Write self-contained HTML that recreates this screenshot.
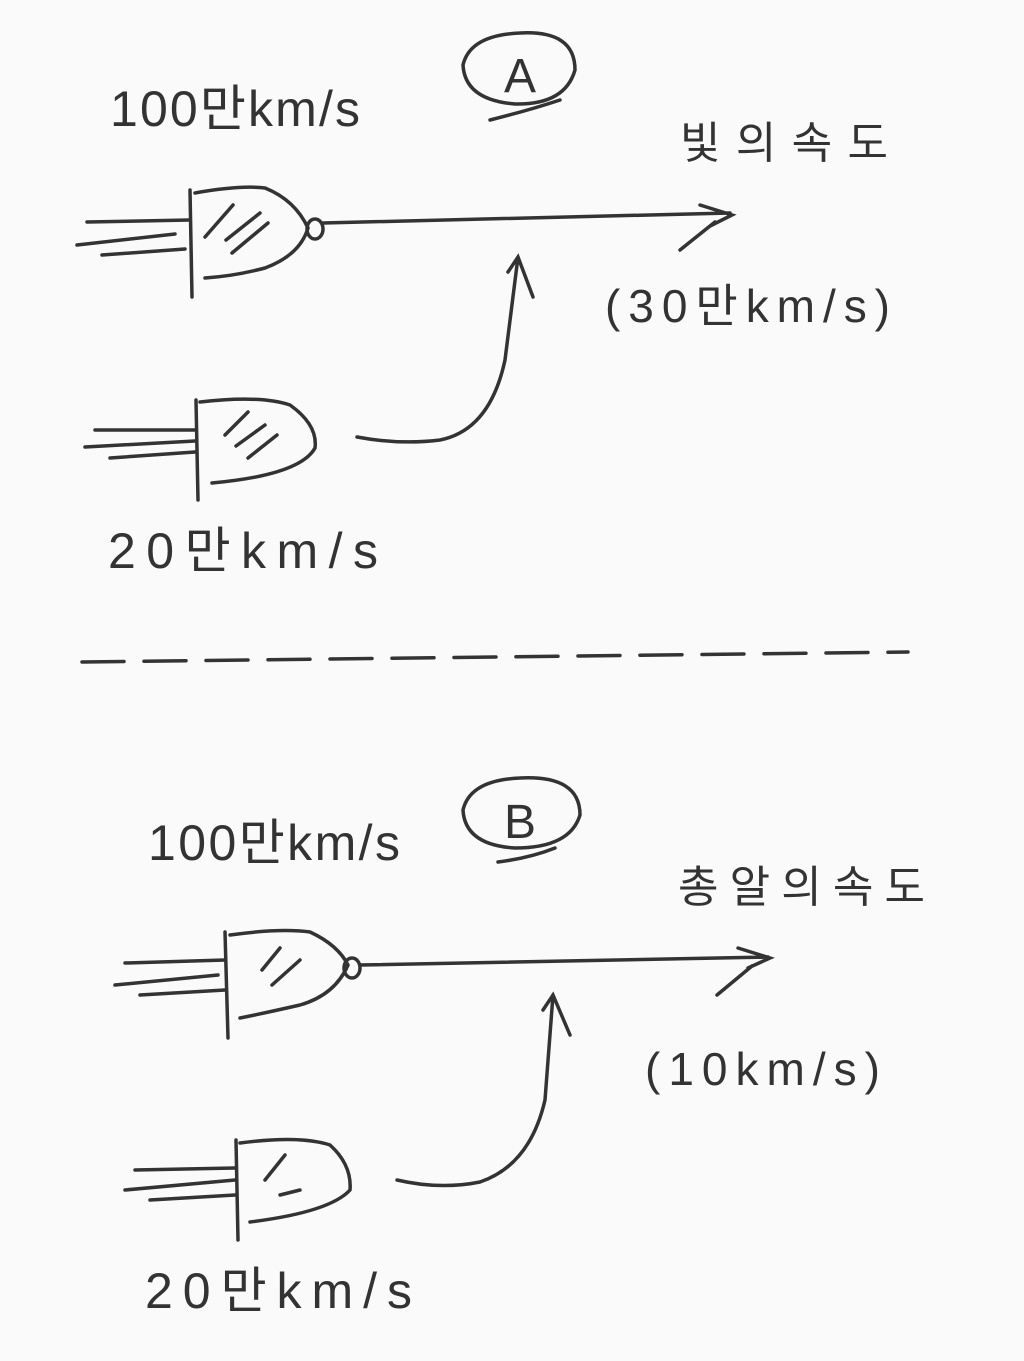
<!DOCTYPE html>
<html><head><meta charset="utf-8"><style>
html,body{margin:0;padding:0;background:#fafafa;}
svg{display:block}
text{font-family:"Liberation Sans","Noto Sans CJK KR",sans-serif;fill:#333;}
</style></head><body>
<svg width="1024" height="1361" viewBox="0 0 1024 1361" xmlns="http://www.w3.org/2000/svg">
<rect width="1024" height="1361" fill="#fafafa"/>
<g fill="none" stroke="#333" stroke-width="3.5" stroke-linecap="round">
<path d="M87,222 L190,220 M77,245 L175,234 M102,255 L185,249"/>
<path d="M190,190 L192,297"/>
<path d="M195,193 Q240,185 265,188 Q295,200 308,228 Q300,255 265,268 Q235,276 205,278"/>
<ellipse cx="315" cy="229" rx="8" ry="10"/>
<path d="M205,237 L233,205 M226,240 L260,213 M232,253 L268,223"/>
<path d="M323,223 L730,213 M700,205 L732,215 L710,226 M680,250 L715,222"/>
<path d="M95,430 L195,430 M85,447 L195,441 M110,458 L195,452"/>
<path d="M196,400 L198,500"/>
<path d="M200,402 Q260,395 290,405 Q318,425 315,448 Q300,475 212,483"/>
<path d="M225,435 L248,412 M236,446 L265,425 M248,458 L277,435"/>
<path d="M357,437 Q400,445 440,440 Q490,430 505,360 L518,257 M508,272 L518,257 L533,297"/>
<path d="M520,33 Q575,30 575,70 Q565,105 515,104 Q465,100 463,65 Q470,35 520,33 M490,120 Q530,110 560,100"/>
<path d="M82,662 L908,652" stroke-dasharray="42,20"/>
<path d="M125,963 L225,960 M115,985 L218,975 M140,995 L225,990"/>
<path d="M225,932 L228,1038"/>
<path d="M230,935 Q280,928 310,932 Q338,945 348,965 Q335,995 300,1005 Q265,1013 240,1018"/>
<ellipse cx="352" cy="968" rx="8" ry="10"/>
<path d="M262,970 L280,948 M272,985 L300,960"/>
<path d="M360,965 L768,957 M738,948 L770,958 L748,968 M717,995 L752,966"/>
<path d="M135,1170 L235,1168 M125,1190 L235,1180 M150,1200 L235,1195"/>
<path d="M236,1140 L238,1240"/>
<path d="M240,1143 Q300,1135 330,1145 Q352,1165 350,1190 Q330,1212 250,1222"/>
<path d="M265,1180 L285,1155 M280,1195 L300,1190"/>
<path d="M397,1180 Q440,1190 480,1182 Q530,1165 545,1100 L553,995 M543,1010 L553,995 L570,1035"/>
<path d="M520,778 Q580,775 580,815 Q570,848 515,848 Q465,845 463,810 Q470,780 520,778 M498,862 Q530,858 555,848"/>
</g>
<text x="520" y="92" font-size="48" text-anchor="middle">A</text>
<text x="520" y="838" font-size="48" text-anchor="middle">B</text>
<text x="110" y="126" font-size="50" textLength="250" lengthAdjust="spacing">100만km/s</text>
<text x="680" y="158" font-size="44" textLength="208" lengthAdjust="spacing">빛의속도</text>
<text x="605" y="322" font-size="46" textLength="285" lengthAdjust="spacing">(30만km/s)</text>
<text x="108" y="568" font-size="50" textLength="270" lengthAdjust="spacing">20만km/s</text>
<text x="148" y="860" font-size="50" textLength="252" lengthAdjust="spacing">100만km/s</text>
<text x="678" y="902" font-size="44" textLength="247" lengthAdjust="spacing">총알의속도</text>
<text x="645" y="1085" font-size="46" textLength="235" lengthAdjust="spacing">(10km/s)</text>
<text x="145" y="1308" font-size="50" textLength="267" lengthAdjust="spacing">20만km/s</text>
</svg>
</body></html>
